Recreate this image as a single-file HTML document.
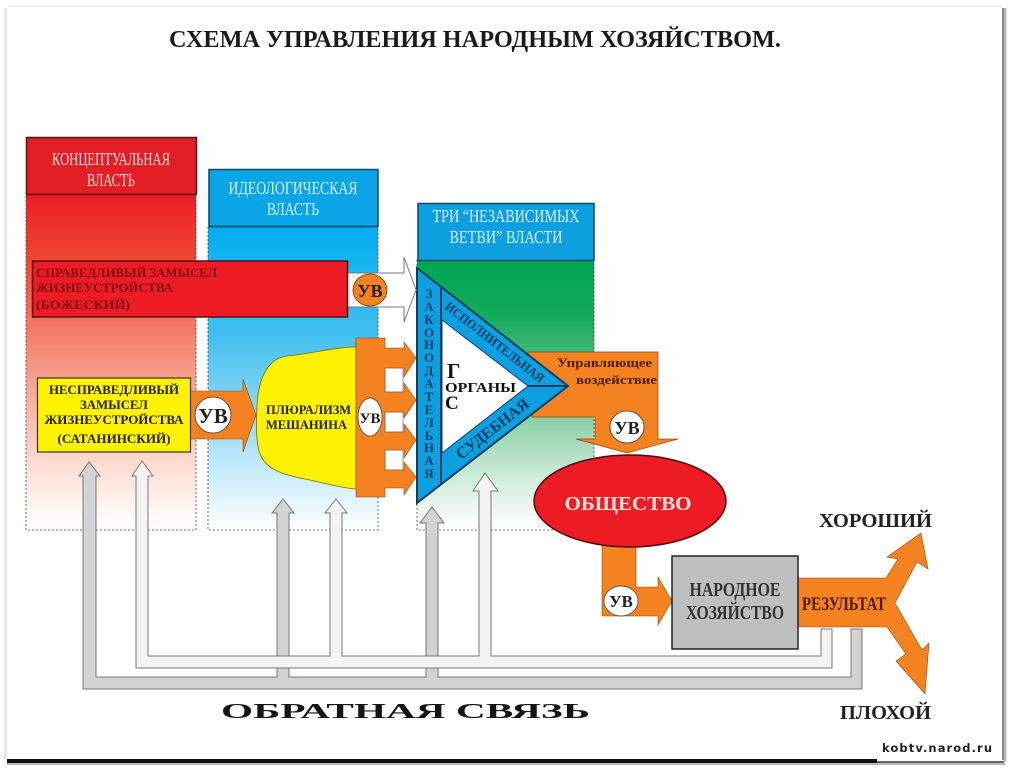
<!DOCTYPE html>
<html><head><meta charset="utf-8">
<style>html,body{margin:0;padding:0;background:#fff;width:1010px;height:770px;overflow:hidden}
svg{display:block}
text{font-family:"Liberation Serif","DejaVu Serif",serif}
.s{font-family:"DejaVu Sans","Liberation Sans",sans-serif}
</style></head><body>
<svg width="1010" height="770" viewBox="0 0 1010 770" xmlns="http://www.w3.org/2000/svg">
<defs>
<linearGradient id="gr" x1="0" y1="0" x2="0" y2="1"><stop offset="0" stop-color="#ed1c24"/><stop offset=".22" stop-color="#ef4d37"/><stop offset=".55" stop-color="#f6a08c"/><stop offset=".85" stop-color="#fde6de"/><stop offset="1" stop-color="#fff"/></linearGradient>
<linearGradient id="gb" x1="0" y1="0" x2="0" y2="1"><stop offset="0" stop-color="#00aeef"/><stop offset=".35" stop-color="#40bff0"/><stop offset=".7" stop-color="#a8e0f7"/><stop offset="1" stop-color="#fff"/></linearGradient>
<linearGradient id="gg" x1="0" y1="0" x2="0" y2="1"><stop offset="0" stop-color="#00a651"/><stop offset=".2" stop-color="#14aa5c"/><stop offset=".55" stop-color="#7fcb9c"/><stop offset=".85" stop-color="#dcf0e4"/><stop offset="1" stop-color="#fff"/></linearGradient>
</defs>
<rect width="1010" height="770" fill="#fff"/>
<!-- frame -->
<rect x="8" y="5" width="994" height="2" fill="#eee"/>
<rect x="4" y="8" width="3" height="750" fill="#e6e6e6"/>
<rect x="1002" y="8" width="2" height="752" fill="#888"/>
<rect x="1004" y="8" width="2" height="754" fill="#bbb"/>
<rect x="1006" y="8" width="1" height="754" fill="#e4e4e4"/>
<rect x="7" y="759" width="870" height="4" fill="#111"/>
<rect x="7" y="763" width="998" height="2" fill="#bbb"/>
<rect x="877" y="761" width="127" height="2" fill="#666"/>

<text x="169" y="47" font-size="24" font-weight="bold" fill="#1a1a1a" textLength="612" lengthAdjust="spacingAndGlyphs">СХЕМА УПРАВЛЕНИЯ НАРОДНЫМ ХОЗЯЙСТВОМ.</text>

<!-- columns -->
<rect x="26" y="194" width="170" height="336" fill="url(#gr)" stroke="#444" stroke-dasharray="2 2" stroke-width=".8"/>
<rect x="26.500" y="137.500" width="170" height="57" fill="#e31e26" stroke="#5a1015" stroke-width="1.500"/>
<rect x="208" y="227" width="170" height="303" fill="url(#gb)" stroke="#444" stroke-dasharray="2 2" stroke-width=".8"/>
<rect x="209" y="169.500" width="169" height="57" fill="#0aa5e6" stroke="#0c4a6b" stroke-width="1.500"/>
<rect x="417" y="260" width="177" height="270" fill="url(#gg)" stroke="#444" stroke-dasharray="2 2" stroke-width=".8"/>
<rect x="418" y="203.500" width="176" height="57" fill="#0d9fe0" stroke="#0c4a6b" stroke-width="1.500"/>

<text x="111" y="165" text-anchor="middle" font-size="18" fill="#fbdcd6" textLength="118" lengthAdjust="spacingAndGlyphs">КОНЦЕПТУАЛЬНАЯ</text>
<text x="111" y="186" text-anchor="middle" font-size="18" fill="#fbdcd6" textLength="48" lengthAdjust="spacingAndGlyphs">ВЛАСТЬ</text>
<text x="293" y="194" text-anchor="middle" font-size="18" fill="#d5f1fb" textLength="129" lengthAdjust="spacingAndGlyphs">ИДЕОЛОГИЧЕСКАЯ</text>
<text x="293" y="215" text-anchor="middle" font-size="18" fill="#d5f1fb" textLength="52" lengthAdjust="spacingAndGlyphs">ВЛАСТЬ</text>
<text x="506" y="222" text-anchor="middle" font-size="18" fill="#d5f1fb" textLength="147" lengthAdjust="spacingAndGlyphs">ТРИ “НЕЗАВИСИМЫХ</text>
<text x="506" y="243" text-anchor="middle" font-size="18" fill="#d5f1fb" textLength="113" lengthAdjust="spacingAndGlyphs">ВЕТВИ” ВЛАСТИ</text>

<!-- feedback gray -->
<path d="M851 629V677H96V476H100L89 462L79 476H83V689H862V629Z" fill="#d2d3d5" stroke="#777" stroke-width="1"/>
<path d="M277 677V513H272L283 499L294 513H289V677Z" fill="#d2d3d5" stroke="#777"/>
<path d="M426 677V523H420L432 507L444 523H438V677Z" fill="#d2d3d5" stroke="#777"/>
<rect x="277.500" y="675" width="11" height="13.500" fill="#d2d3d5"/>
<rect x="426.500" y="675" width="11" height="13.500" fill="#d2d3d5"/>
<!-- feedback white -->
<path d="M821 629V656H491V491H498L485 473L473 491H479V656H342V513H347L336 499L325 513H330V656H148V476H153L142 461L132 476H136V668H832V629Z" fill="#f3f3f3" stroke="#777" stroke-width="1"/>

<!-- central triangle connections -->
<path d="M528 352H658V439H678L627 453L576 439H595V417H532Z" fill="#f58220" stroke="#8a4a12" stroke-width=".7"/>
<path d="M417 268V503L568 386Z" fill="#0d9fe0" stroke="#0b3f5e" stroke-width="2"/>
<path d="M442 320V453L528 386Z" fill="#fff" stroke="#0b3f5e" stroke-width="1"/>
<path d="M441 288V483M528 386H568" stroke="#0b3f5e" stroke-width="2" fill="none"/>
<text font-size="13" font-weight="bold" fill="#0b3f5e" text-anchor="middle">
<tspan x="429" y="298">З</tspan><tspan x="429" y="311">А</tspan><tspan x="429" y="324">К</tspan><tspan x="429" y="337">О</tspan><tspan x="429" y="349">Н</tspan><tspan x="429" y="362">О</tspan><tspan x="429" y="375">Д</tspan><tspan x="429" y="388">А</tspan><tspan x="429" y="401">Т</tspan><tspan x="429" y="414">Е</tspan><tspan x="429" y="427">Л</tspan><tspan x="429" y="440">Ь</tspan><tspan x="429" y="452">Н</tspan><tspan x="429" y="465">А</tspan><tspan x="429" y="478">Я</tspan></text>
<text transform="translate(444,308) rotate(38)" font-size="13" font-weight="bold" fill="#0b3f5e" textLength="122" lengthAdjust="spacingAndGlyphs">ИСПОЛНИТЕЛЬНАЯ</text>
<text transform="translate(461,460) rotate(-38)" font-size="16" font-weight="bold" fill="#0b3f5e" textLength="88" lengthAdjust="spacingAndGlyphs">СУДЕБНАЯ</text>
<text x="447" y="378" font-size="21" font-weight="bold" fill="#111">Г</text>
<text x="445" y="392" font-size="14" font-weight="bold" fill="#111" textLength="71" lengthAdjust="spacingAndGlyphs">ОРГАНЫ</text>
<text x="445" y="409" font-size="19" font-weight="bold" fill="#111">С</text>
<text x="557" y="367" font-size="12.500" font-weight="bold" fill="#4a2008" textLength="95" lengthAdjust="spacingAndGlyphs">Управляющее</text>
<text x="576" y="384" font-size="12.500" font-weight="bold" fill="#4a2008" textLength="81" lengthAdjust="spacingAndGlyphs">воздействие</text>
<ellipse cx="627" cy="427" rx="17" ry="16" fill="#fff" stroke="#333" stroke-width=".8"/>
<text x="627" y="434" text-anchor="middle" font-size="18" font-weight="bold" fill="#222">УВ</text>

<!-- red bar + white arrow -->
<path d="M347 273H404V257L416 290L404 322V307H347Z" fill="#fff" stroke="#777" stroke-width="1"/>
<rect x="32.500" y="261" width="315" height="56" fill="#ed1c24" stroke="#5a1015" stroke-width="1.500"/>
<text x="36" y="277" font-size="13" font-weight="bold" fill="#7a1216" textLength="181" lengthAdjust="spacingAndGlyphs">СПРАВЕДЛИВЫЙ ЗАМЫСЕЛ</text>
<text x="36" y="292" font-size="13" font-weight="bold" fill="#7a1216" textLength="137" lengthAdjust="spacingAndGlyphs">ЖИЗНЕУСТРОЙСТВА</text>
<text x="36" y="309" font-size="13" font-weight="bold" fill="#7a1216" textLength="94" lengthAdjust="spacingAndGlyphs">(БОЖЕСКИЙ)</text>
<ellipse cx="370" cy="290" rx="17" ry="16" fill="#f58220" stroke="#6b3a10" stroke-width=".8"/>
<text x="370" y="297" text-anchor="middle" font-size="18" font-weight="bold" fill="#222">УВ</text>

<!-- yellow box -->
<path d="M190 391H243V379L256 415L243 452V439H190Z" fill="#f58220" stroke="#8a4a12" stroke-width=".6"/>
<rect x="37.500" y="378" width="153" height="74" fill="#fff200" stroke="#333" stroke-width="1.200"/>
<text x="114" y="394" text-anchor="middle" font-size="13" font-weight="bold" fill="#222" textLength="130" lengthAdjust="spacingAndGlyphs">НЕСПРАВЕДЛИВЫЙ</text>
<text x="114" y="409" text-anchor="middle" font-size="13" font-weight="bold" fill="#222" textLength="68" lengthAdjust="spacingAndGlyphs">ЗАМЫСЕЛ</text>
<text x="114" y="424" text-anchor="middle" font-size="13" font-weight="bold" fill="#222" textLength="139" lengthAdjust="spacingAndGlyphs">ЖИЗНЕУСТРОЙСТВА</text>
<text x="114" y="443" text-anchor="middle" font-size="13" font-weight="bold" fill="#222" textLength="113" lengthAdjust="spacingAndGlyphs">(САТАНИНСКИЙ)</text>
<circle cx="213" cy="415" r="18" fill="#fff" stroke="#333" stroke-width=".8"/>
<text x="213" y="423" text-anchor="middle" font-size="21" font-weight="bold" fill="#222">УВ</text>

<!-- blob -->
<path d="M356 347C335 347 310 354 287 356C270 358 258 375 257 407C256 430 256 448 262 458C270 472 290 476 305 479C325 483 340 488 356 489Z" fill="#fff200" stroke="#7a6a10" stroke-width=".8"/>
<text x="266" y="414" font-size="12.500" font-weight="bold" fill="#222" textLength="85" lengthAdjust="spacingAndGlyphs">ПЛЮРАЛИЗМ</text>
<text x="266" y="429" font-size="12.500" font-weight="bold" fill="#222" textLength="81" lengthAdjust="spacingAndGlyphs">МЕШАНИНА</text>

<!-- comb -->
<path d="M385 368h18v24h-18zM385 412h18v20h-18zM385 450h18v20h-18z" fill="#fff" stroke="#777" stroke-width=".7"/>
<path d="M356 338H385V348H404V342L416 358L404 377V368H385V392H404V383L416 400L404 418V412H385V432H404V424L416 440L404 458V450H385V470H404V462L416 477L404 495V488H385V497H356Z" fill="#f58220" stroke="#8a4a12" stroke-width=".6"/>
<ellipse cx="370" cy="417" rx="12" ry="19" fill="#fff" stroke="#333" stroke-width=".7"/>
<text x="370" y="423" text-anchor="middle" font-size="15" font-weight="bold" fill="#222" textLength="21" lengthAdjust="spacingAndGlyphs">УВ</text>

<!-- society flow -->
<path d="M602 540H636V587H658V577L672 601L658 625V616H602Z" fill="#f58220" stroke="#8a4a12" stroke-width=".6"/>
<ellipse cx="630" cy="501" rx="96" ry="46" fill="#ed1c24" stroke="#4a0d10" stroke-width="1.500"/>
<text x="628" y="510" text-anchor="middle" font-size="20" font-weight="bold" fill="#fbe3dc" textLength="127" lengthAdjust="spacingAndGlyphs">ОБЩЕСТВО</text>
<ellipse cx="621" cy="601" rx="17" ry="15" fill="#fff" stroke="#333" stroke-width=".7"/>
<text x="621" y="607" text-anchor="middle" font-size="17" font-weight="bold" fill="#222">УВ</text>

<!-- result -->
<path d="M798 578H886L898 559L887 557L921 533L928 569L917 562L895 603L922 650L929 643L925 694L896 661L906 654L887 627H798Z" fill="#f58220" stroke="#8a4a12" stroke-width=".6"/>
<rect x="672" y="556" width="126" height="93" fill="#bcbec0" stroke="#222" stroke-width="1.500"/>
<text x="735" y="596" text-anchor="middle" font-size="20" fill="#333" font-weight="bold" textLength="91" lengthAdjust="spacingAndGlyphs">НАРОДНОЕ</text>
<text x="735" y="619" text-anchor="middle" font-size="20" fill="#333" font-weight="bold" textLength="98" lengthAdjust="spacingAndGlyphs">ХОЗЯЙСТВО</text>
<text x="802" y="610" font-size="19" font-weight="bold" fill="#4a1a10" textLength="84" lengthAdjust="spacingAndGlyphs">РЕЗУЛЬТАТ</text>
<text x="819" y="527" font-size="20" font-weight="bold" fill="#222" textLength="113" lengthAdjust="spacingAndGlyphs">ХОРОШИЙ</text>
<text x="840" y="719" font-size="20" font-weight="bold" fill="#222" textLength="91" lengthAdjust="spacingAndGlyphs">ПЛОХОЙ</text>
<text x="221" y="718" font-size="21" font-weight="bold" fill="#151515" textLength="369" lengthAdjust="spacingAndGlyphs">ОБРАТНАЯ СВЯЗЬ</text>
<text class="s" x="882" y="752" font-size="11.500" font-weight="bold" fill="#222" textLength="110" lengthAdjust="spacing">kobtv.narod.ru</text>
</svg>
</body></html>
